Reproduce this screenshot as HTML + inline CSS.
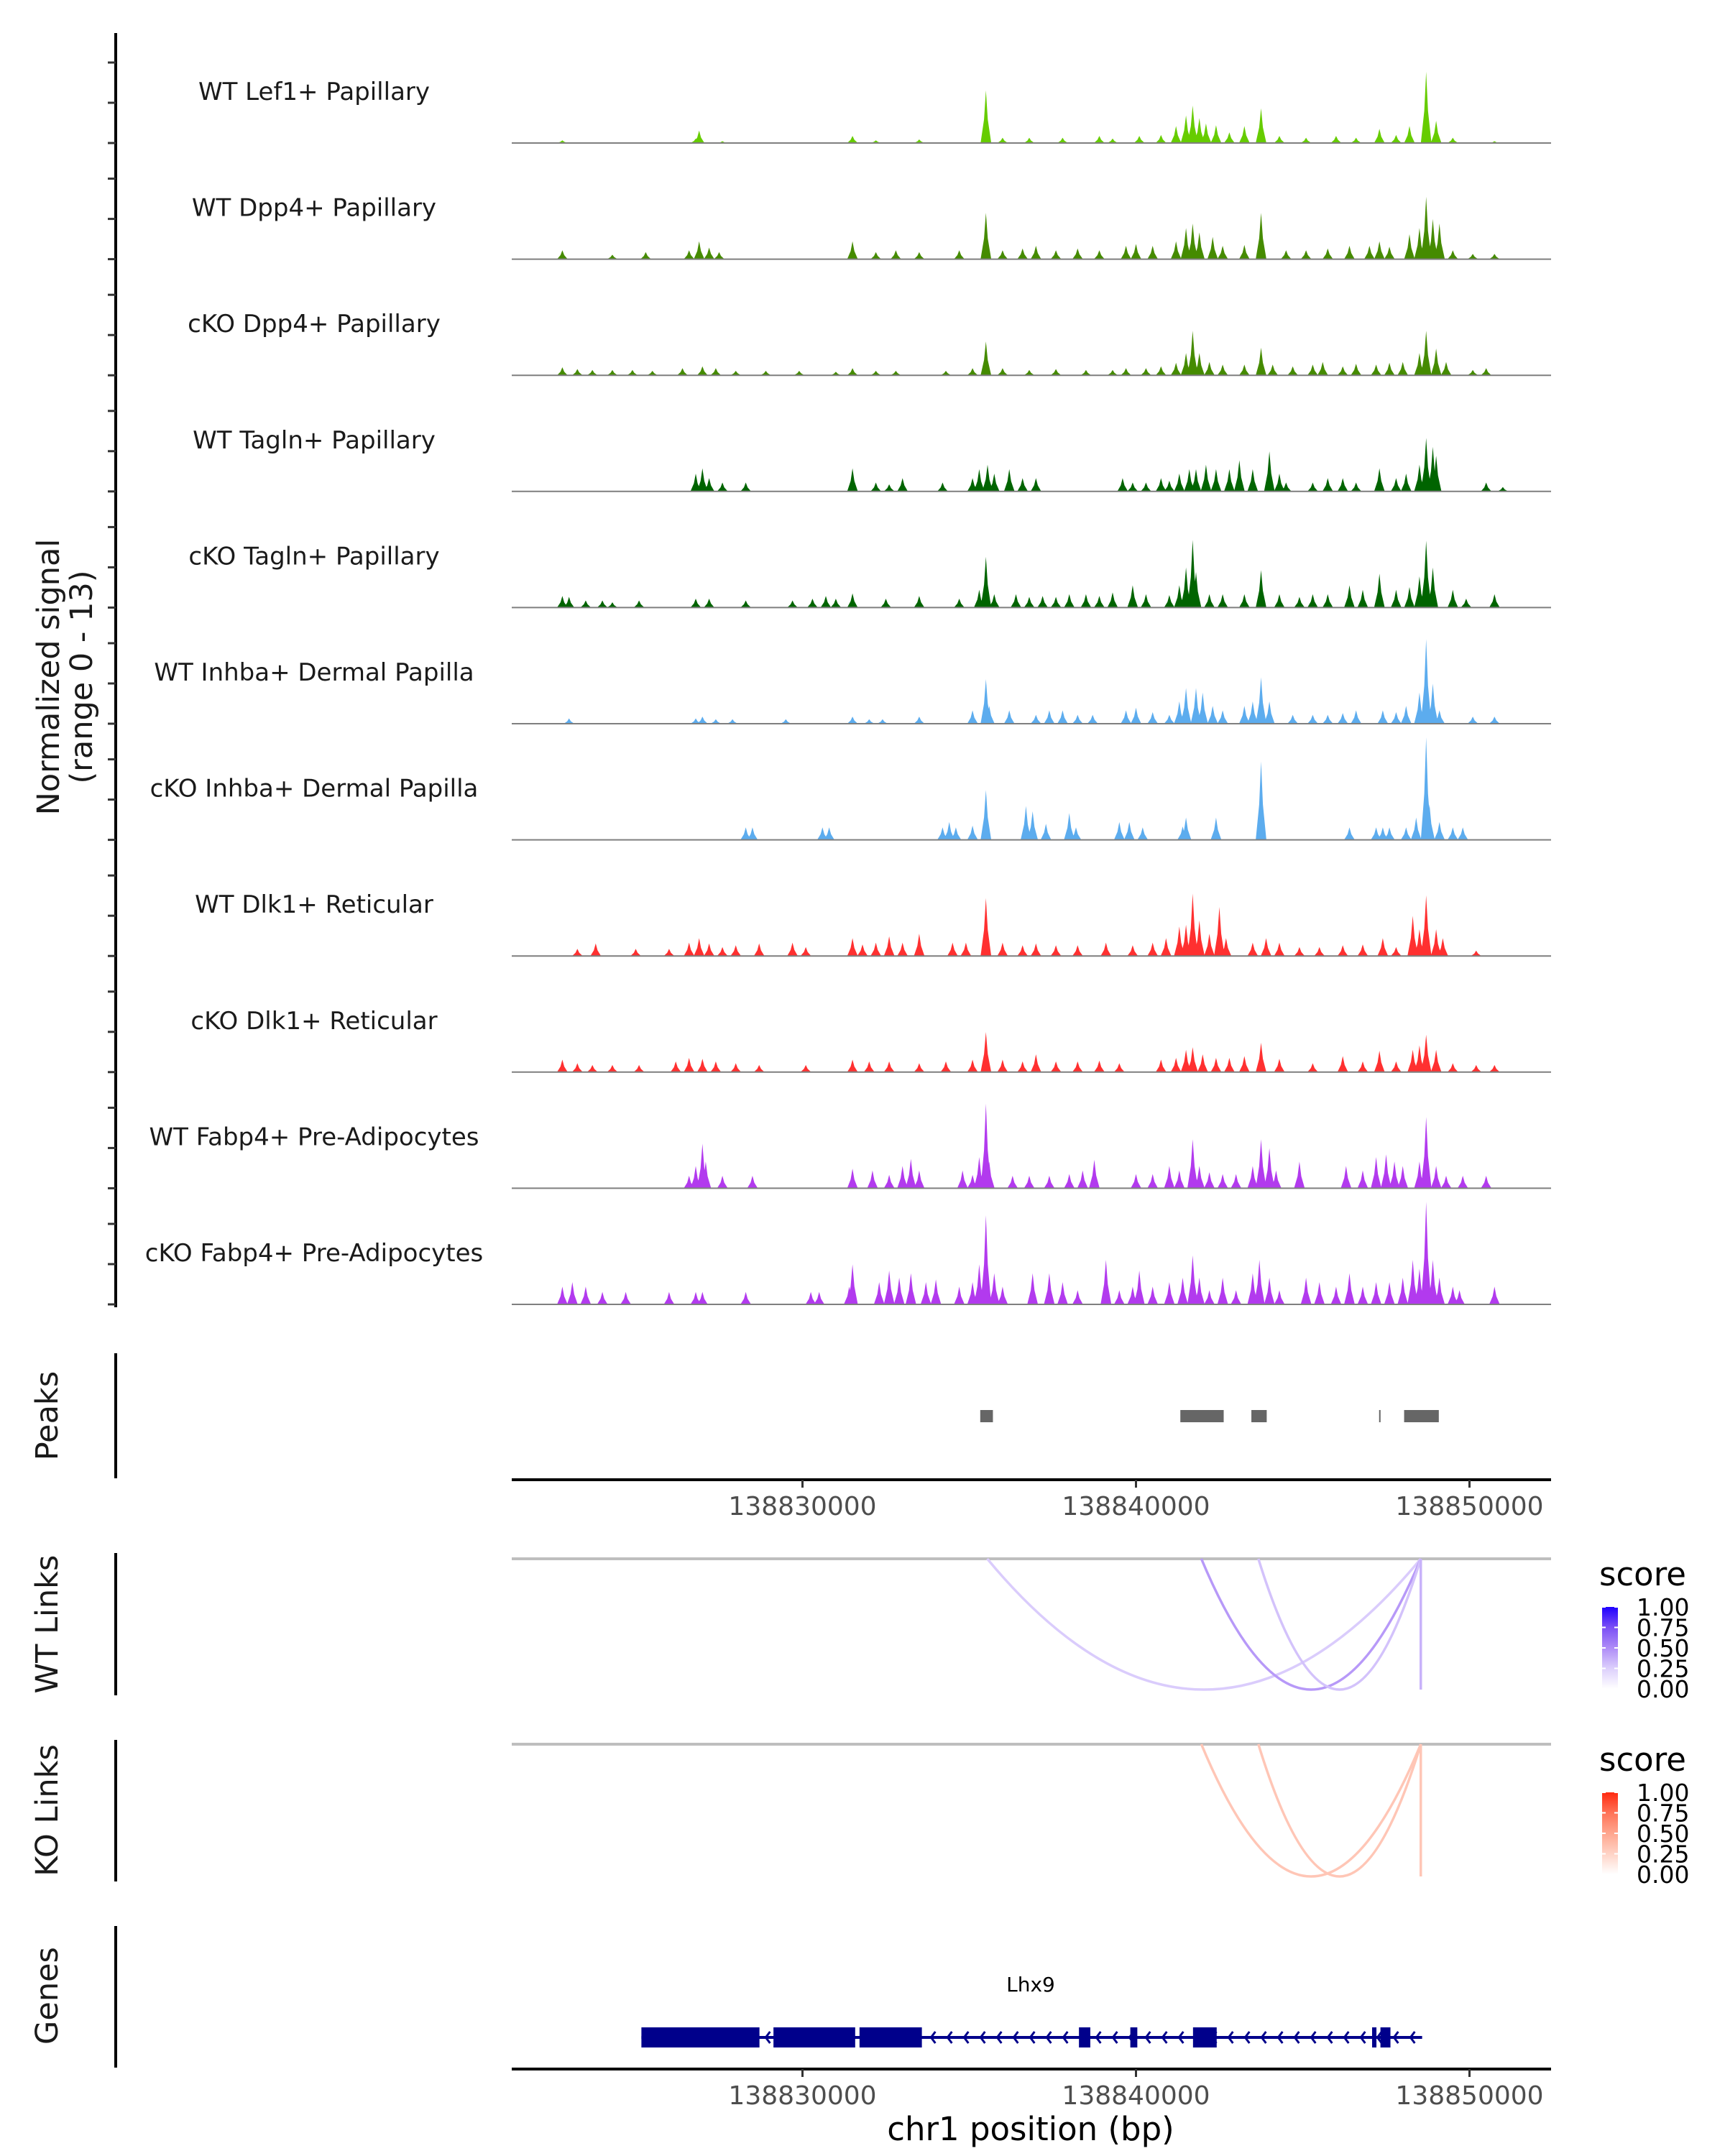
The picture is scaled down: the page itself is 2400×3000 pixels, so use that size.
<!DOCTYPE html>
<html><head><meta charset="utf-8"><style>
html,body{margin:0;padding:0;background:#fff}
svg{display:block}
text{font-family:"DejaVu Sans","Liberation Sans",sans-serif}
</style></head><body>
<svg id="chart" xmlns="http://www.w3.org/2000/svg" width="2400" height="3000" viewBox="0 0 2400 3000">
<rect x="0" y="0" width="2400" height="3000" fill="#fff"/>
<g id="tracks"></g>
<g id="left"></g>
<g id="peaks"></g>
<g id="links"></g>
<g id="genes"></g>
<g id="legends"></g>
</svg>
<script>
// ---- data (positions in kb offset from 138000000; values = normalized signal) ----
const trackNames = ["WT Lef1+ Papillary","WT Dpp4+ Papillary","cKO Dpp4+ Papillary","WT Tagln+ Papillary","cKO Tagln+ Papillary","WT Inhba+ Dermal Papilla","cKO Inhba+ Dermal Papilla","WT Dlk1+ Reticular","cKO Dlk1+ Reticular","WT Fabp4+ Pre-Adipocytes","cKO Fabp4+ Pre-Adipocytes"];
const trackColors = ["#66cc00","#458b00","#458b00","#006400","#006400","#5cacee","#5cacee","#ff3030","#ff3030","#b23aee","#b23aee"];
const posLef1 = [822.8,826.8,826.9,827.6,831.5,832.2,833.5,835.5,836.0,836.8,837.8,838.9,839.3,840.1,840.75,841.2,841.5,841.7,841.9,842.1,842.4,842.8,843.25,843.75,844.3,845.1,846.0,846.6,847.3,847.8,848.2,848.7,849.0,849.5,850.75];
const valLef1 = [0.3,0.5,1.4,0.2,0.8,0.3,0.4,5.9,0.6,0.6,0.6,0.8,0.5,0.8,0.9,1.9,3.1,4.2,2.8,2.2,2.0,1.2,1.9,3.9,0.8,0.6,0.8,0.6,1.6,0.9,1.9,8.0,2.5,0.6,0.2];
const posWDpp4 = [822.8,824.3,825.3,826.6,826.9,827.2,827.5,831.5,832.2,832.8,833.5,834.7,835.5,836.0,836.6,837.0,837.6,838.25,838.9,839.7,840.0,840.5,841.2,841.5,841.7,841.9,842.3,842.6,843.25,843.75,844.5,845.1,845.75,846.4,847.0,847.3,847.6,848.2,848.5,848.7,848.9,849.1,849.5,850.1,850.75];
const valWDpp4 = [1.0,0.5,0.8,1.0,2.0,1.3,0.8,2.0,0.8,1.0,0.8,1.0,5.2,1.0,1.2,1.5,1.0,1.2,1.0,1.5,1.7,1.5,2.0,3.5,4.0,3.0,2.5,1.5,1.6,5.2,1.0,1.0,1.2,1.5,1.5,2.0,1.4,2.8,3.5,7.0,4.5,4.0,1.0,0.6,0.6];
const posKDpp4 = [822.8,823.25,823.7,824.3,824.9,825.5,826.4,827.0,827.4,828.0,828.9,829.9,831.0,831.5,832.2,832.8,834.3,835.1,835.5,836.0,836.8,837.6,838.5,839.3,839.7,840.3,840.75,841.2,841.5,841.7,841.9,842.2,842.6,843.25,843.75,844.1,844.7,845.3,845.6,846.2,846.6,847.2,847.6,848.0,848.5,848.7,849.0,849.3,850.1,850.5];
const valKDpp4 = [0.9,0.7,0.6,0.6,0.6,0.5,0.8,1.0,0.8,0.5,0.5,0.5,0.4,0.8,0.5,0.5,0.5,0.8,3.8,0.8,0.6,0.7,0.6,0.6,0.8,0.8,1.0,1.4,2.5,5.0,2.5,1.5,1.2,1.2,3.1,1.2,1.0,1.2,1.5,1.0,1.3,1.2,1.4,1.5,2.5,5.0,3.0,1.5,0.6,0.8];
const posWTagln = [826.8,827.0,827.2,827.6,828.3,831.5,832.2,832.6,833.0,834.2,835.1,835.3,835.55,835.75,836.2,836.6,837.0,839.6,839.9,840.3,840.75,841.0,841.3,841.6,841.8,842.1,842.4,842.8,843.1,843.5,844.0,844.3,844.5,845.3,845.75,846.2,846.6,847.3,847.8,848.1,848.5,848.7,848.9,849.0,850.5,851.0];
const valWTagln = [2.0,2.6,1.5,1.0,1.0,2.6,1.0,0.8,1.5,1.0,1.5,2.5,3.0,2.0,2.5,1.5,1.5,1.5,1.0,1.0,1.5,1.2,2.0,2.5,2.5,3.0,2.5,2.5,3.5,2.5,4.5,2.0,1.0,1.0,1.5,1.5,1.0,2.6,1.5,2.0,3.0,6.0,5.0,4.0,1.0,0.5];
const posKTagln = [822.8,823.0,823.5,824.0,824.3,825.1,826.8,827.2,828.3,829.7,830.3,830.7,831.0,831.5,832.5,833.5,834.7,835.3,835.5,835.75,836.4,836.8,837.2,837.6,838.0,838.5,838.9,839.3,839.9,840.3,841.0,841.3,841.5,841.7,841.8,842.2,842.6,843.25,843.75,844.3,844.9,845.3,845.75,846.4,846.8,847.3,847.8,848.2,848.5,848.7,848.9,849.5,849.9,850.75];
const valKTagln = [1.3,1.2,0.8,0.8,0.6,0.8,1.0,1.0,0.8,0.8,1.0,1.3,1.0,1.6,1.0,1.3,1.0,2.0,5.7,1.5,1.5,1.2,1.3,1.2,1.5,1.5,1.3,1.7,2.5,1.5,1.4,2.5,4.5,7.6,4.0,1.5,1.5,1.5,4.2,1.5,1.2,1.5,1.5,2.5,2.0,3.8,2.0,2.3,3.5,7.5,4.5,2.0,1.0,1.5];
const posWInhba = [823.0,826.8,827.0,827.4,827.9,829.5,831.5,832.0,832.4,833.5,835.1,835.5,835.6,836.2,837.0,837.4,837.8,838.25,838.7,839.7,840.0,840.5,841.0,841.3,841.5,841.8,842.0,842.3,842.6,843.25,843.5,843.75,844.0,844.7,845.3,845.75,846.2,846.6,847.4,847.8,848.1,848.5,848.7,848.9,849.1,850.1,850.75];
const valWInhba = [0.6,0.6,0.8,0.5,0.5,0.5,0.8,0.5,0.5,0.8,1.5,5.0,2.0,1.5,1.0,1.5,1.5,1.0,1.0,1.5,1.8,1.3,1.0,2.5,4.0,4.0,3.5,2.0,1.5,2.0,2.5,5.2,2.5,1.0,1.0,1.0,1.2,1.5,1.5,1.3,2.0,3.5,9.5,4.5,1.5,0.8,0.8];
const posKInhba = [828.3,828.5,830.6,830.8,834.2,834.4,834.6,835.1,835.5,836.7,836.9,837.3,838.0,838.2,839.5,839.8,840.2,841.4,841.5,842.4,843.75,846.4,847.2,847.4,847.6,848.1,848.4,848.7,848.8,849.1,849.5,849.8];
const valKInhba = [1.4,1.4,1.4,1.4,1.4,2.0,1.4,1.6,5.6,3.8,3.2,1.8,3.0,1.4,2.0,2.0,1.4,1.5,2.5,2.5,8.8,1.4,1.4,1.4,1.4,1.4,2.5,11.5,4.0,2.0,1.4,1.4];
const posWDlk1 = [823.25,823.8,825.0,826.0,826.6,826.9,827.2,827.6,828.0,828.7,829.7,830.1,831.5,831.8,832.2,832.6,833.0,833.5,834.5,834.9,835.5,836.0,836.6,837.0,837.6,838.25,839.1,839.9,840.5,840.9,841.3,841.5,841.7,841.9,842.2,842.5,842.7,843.5,843.9,844.3,844.9,845.5,846.2,846.8,847.4,847.8,848.3,848.5,848.7,849.0,849.2,850.2];
const valWDlk1 = [0.8,1.4,0.8,0.8,1.5,2.0,1.4,1.0,1.2,1.4,1.5,1.0,2.0,1.3,1.5,2.2,1.5,2.5,1.5,1.5,6.5,1.5,1.2,1.4,1.2,1.2,1.5,1.2,1.5,2.0,3.3,3.5,7.0,4.0,2.5,5.5,2.0,1.5,2.0,1.5,1.0,1.0,1.2,1.3,2.0,1.0,4.5,3.0,6.8,3.0,2.0,0.6];
const posKDlk1 = [822.8,823.25,823.7,824.3,825.1,826.2,826.6,827.0,827.4,828.0,828.7,830.1,831.5,832.0,832.6,833.5,834.3,835.1,835.5,836.0,836.6,837.0,837.6,838.25,838.9,839.5,840.75,841.2,841.5,841.7,842.0,842.4,842.8,843.25,843.75,844.3,845.3,846.2,846.8,847.3,847.8,848.3,848.5,848.7,849.0,849.5,850.2,850.75];
const valKDlk1 = [1.4,1.0,0.8,0.8,0.8,1.2,1.6,1.5,1.2,1.0,0.8,0.8,1.4,1.2,1.2,1.0,1.2,1.4,4.5,1.4,1.2,2.0,1.2,1.2,1.3,1.0,1.4,1.6,2.5,2.8,2.0,1.6,1.6,1.8,3.3,1.5,1.0,1.8,1.2,2.4,1.2,2.5,3.0,4.2,2.5,1.0,0.8,0.8];
const posWFabp4 = [826.6,826.8,827.0,827.1,827.6,828.5,831.5,832.1,832.6,833.0,833.25,833.5,834.8,835.1,835.3,835.5,835.6,836.3,836.8,837.4,838.0,838.4,838.75,840.0,840.5,841.0,841.3,841.7,841.9,842.2,842.6,843.0,843.5,843.75,844.0,844.2,844.9,846.3,846.8,847.2,847.5,847.75,848.0,848.5,848.7,849.0,849.3,849.8,850.5];
const valWFabp4 = [1.4,2.5,5.0,3.0,1.4,1.4,2.2,2.0,1.5,2.5,3.3,2.0,2.0,1.5,3.5,9.5,3.0,1.4,1.4,1.4,1.6,2.0,3.2,1.6,1.6,2.5,2.0,5.5,2.5,1.8,1.6,1.6,2.5,5.5,4.5,2.0,3.0,2.5,2.0,3.5,3.8,3.0,2.5,3.0,8.0,2.5,1.4,1.4,1.4];
const posKFabp4 = [822.8,823.1,823.5,824.0,824.7,826.0,826.8,827.0,828.3,830.25,830.5,831.4,831.5,832.3,832.6,832.9,833.25,833.7,834.0,834.7,835.1,835.3,835.5,835.75,836.0,836.9,837.4,837.8,838.25,839.1,839.5,839.9,840.1,840.5,841.0,841.4,841.7,841.9,842.2,842.6,843.0,843.5,843.7,844.0,844.3,845.1,845.5,846.0,846.4,846.8,847.2,847.6,848.0,848.3,848.5,848.7,848.9,849.1,849.5,849.7,850.75];
const valKFabp4 = [2.0,2.5,2.0,1.4,1.4,1.4,1.4,1.4,1.4,1.4,1.4,2.0,4.5,2.5,3.8,3.0,3.5,2.5,2.8,2.0,2.5,4.5,10.0,3.5,2.0,3.5,3.5,2.5,1.6,5.0,1.6,2.0,3.8,2.0,2.5,3.0,5.5,3.0,1.6,3.0,1.6,3.5,5.0,3.0,1.6,3.0,2.5,2.0,3.5,2.0,2.5,2.5,3.0,5.0,4.0,11.5,5.0,3.0,2.0,1.6,2.0];
const trackPos = [posLef1,posWDpp4,posKDpp4,posWTagln,posKTagln,posWInhba,posKInhba,posWDlk1,posKDlk1,posWFabp4,posKFabp4];
const trackVal = [valLef1,valWDpp4,valKDpp4,valWTagln,valKTagln,valWInhba,valKInhba,valWDlk1,valKDlk1,valWFabp4,valKFabp4];
const peakStart = [835.33,841.33,843.46,847.29,848.04];
const peakEnd = [835.71,842.63,843.92,847.33,849.08];
const xTicks = [138830000,138840000,138850000];
const xTickLabels = ["138830000","138840000","138850000"];
const wtLinkStart = [835.54,841.96,843.67,848.50];
const wtLinkEnd = [848.54,848.54,848.54,848.54];
const wtLinkScore = [0.26,0.45,0.3,0.36];
const koLinkStart = [841.96,843.67,848.50];
const koLinkEnd = [848.54,848.54,848.54];
const koLinkScore = [0.32,0.32,0.32];
const exonStart = [825.17,829.13,831.71,838.29,839.83,841.71,847.08,847.33];
const exonEnd = [828.71,831.58,833.58,838.63,840.04,842.42,847.21,847.63];
const geneStart = 825.17, geneEnd = 848.58;
const legendTicks = ["1.00","0.75","0.50","0.25","0.00"];

// ---- scales ----
const NS = "http://www.w3.org/2000/svg";
const X0 = 712, X1 = 2158;
function xsBp(bp){ return 1116.5 + (bp - 138830000)/10000*464; }
function xs(kb){ return xsBp(138000000 + kb*1000); }
const trackTop0 = 199, trackStep = 161.6, unitPx = 12.4;
function ys(i, v){ return trackTop0 + i*trackStep - v*unitPx; }
function mk(tag, attrs, parent){ const e=document.createElementNS(NS,tag); for(const k in attrs) e.setAttribute(k,attrs[k]); parent.appendChild(e); return e; }

// ---- tracks ----
const gT = document.getElementById('tracks');
for(let i=0;i<trackNames.length;i++){
  const g = mk('g',{},gT);
  
  
  const base = ys(i,0);
  const hw = 0.16;
  const pos = trackPos[i], val = trackVal[i];
  let d = '';
  for(let j=0;j<pos.length;j++){
    d += 'M'+xs(pos[j]-hw).toFixed(1)+','+base+' L'+xs(pos[j]-hw*0.35).toFixed(1)+','+ys(i,val[j]*0.45).toFixed(1)+' L'+xs(pos[j]).toFixed(1)+','+ys(i,val[j]).toFixed(1)+' L'+xs(pos[j]+hw*0.35).toFixed(1)+','+ys(i,val[j]*0.45).toFixed(1)+' L'+xs(pos[j]+hw).toFixed(1)+','+base+' Z ';
  }
  const p = mk('path',{d:d,fill:trackColors[i]},g);
  
  
  const bl = mk('line',{x1:X0,x2:X1,y1:base,y2:base,stroke:'#7f7f7f','stroke-width':2},g);
  
  
  const t = mk('text',{x:437,y:base-60,'text-anchor':'middle','font-size':34,fill:'#1a1a1a'},g);
  t.textContent = trackNames[i];
  
  
}

// ---- left axes ----
const gL = document.getElementById('left');
function vaxis(y1,y2,name){ const l=mk('line',{x1:161,x2:161,y1:y1,y2:y2,stroke:'#000','stroke-width':4},gL);   }
vaxis(46,1819,'signal-y-axis');
for(let i=0;i<trackNames.length;i++){
  const b = ys(i,0);
  [0,56,112].forEach(o=>{ const tk=mk('line',{x1:150,x2:161,y1:b-o,y2:b-o,stroke:'#333','stroke-width':3},gL);   });
}
vaxis(1883,2057,'peaks-y-axis');
vaxis(2161,2359,'wt-links-y-axis');
vaxis(2421,2618,'ko-links-y-axis');
vaxis(2680,2877,'genes-y-axis');
function vtitle(x,y,txt,name){ const t=mk('text',{x:x,y:y,'text-anchor':'middle','font-size':43,fill:'#1a1a1a',transform:'rotate(-90 '+x+' '+y+')'},gL); t.textContent=txt;   }
vtitle(82,942,'Normalized signal','y-axis-title');
vtitle(128,942,'(range 0 - 13)','y-axis-subtitle');
vtitle(80,1970,'Peaks','peaks-title');
vtitle(80,2260,'WT Links','wt-links-title');
vtitle(80,2519,'KO Links','ko-links-title');
vtitle(80,2777,'Genes','genes-title');

// ---- peaks + x axes ----
const gP = document.getElementById('peaks');
for(let j=0;j<peakStart.length;j++){
  const r = mk('rect',{x:xs(peakStart[j]),y:1962,width:Math.max(2,xs(peakEnd[j])-xs(peakStart[j])),height:17,fill:'#666'},gP);
  
  
}
function xaxis(y,name){
  const l = mk('line',{x1:X0,x2:X1,y1:y,y2:y,stroke:'#000','stroke-width':4},gP);
  
  
  for(let k=0;k<xTicks.length;k++){
    const x = xsBp(xTicks[k]);
    const tk = mk('line',{x1:x,x2:x,y1:y,y2:y+11,stroke:'#333','stroke-width':3},gP);
    
    
    const t = mk('text',{x:x,y:y+49,'text-anchor':'middle','font-size':36,fill:'#4d4d4d'},gP);
    t.textContent = xTickLabels[k];
    
    
  }
}
xaxis(2059,'peaks-x-axis');
xaxis(2879,'genes-x-axis');
const xt = mk('text',{x:1434,y:2978,'text-anchor':'middle','font-size':45,fill:'#000'},gP);
xt.textContent = 'chr1 position (bp)';



// ---- links ----
const wtStops = [[255,255,255],[220,207,252],[174,140,247],[123,80,245],[31,0,255]];
const koStops = [[255,255,255],[255,211,198],[255,166,142],[255,114,87],[255,42,16]];
function col(stops,s){ const f=s*4, i=Math.min(3,Math.floor(f)), t=f-i; const a=stops[i], b=stops[i+1]; return 'rgb('+a.map((v,k)=>Math.round(v+(b[k]-v)*t)).join(',')+')'; }
const gK = document.getElementById('links');
function linkPanel(top,bot,st,en,sc,stops,name){
  const l = mk('line',{x1:X0,x2:X1,y1:top,y2:top,stroke:'#bebebe','stroke-width':4},gK);
  
  
  for(let j=0;j<st.length;j++){
    const a=xs(st[j]), b=xs(en[j]);
    const cy = top + (bot-top)*2;
    let d;
    if(Math.abs(b-a)<4) d='M'+b+','+top+' L'+b+','+bot;
    else d='M'+a+','+top+' Q'+((a+b)/2)+','+cy+' '+b+','+top;
    const p = mk('path',{d:d,fill:'none',stroke:col(stops,sc[j]),'stroke-width':3.5},gK);
    
    
  }
}
linkPanel(2169,2351,wtLinkStart,wtLinkEnd,wtLinkScore,wtStops,'wt-link');
linkPanel(2427,2611,koLinkStart,koLinkEnd,koLinkScore,koStops,'ko-link');

// ---- genes ----
const gG = document.getElementById('genes');
const gy = 2835;
const gl = mk('line',{x1:xs(geneStart),x2:xs(geneEnd),y1:gy,y2:gy,stroke:'#00008b','stroke-width':4},gG);


let chev='';
for(let x=xs(geneStart)+12; x<xs(geneEnd); x+=23){ chev += 'M'+(x+6)+','+(gy-8)+' L'+x+','+gy+' L'+(x+6)+','+(gy+8)+' '; }
const ch = mk('path',{d:chev,fill:'none',stroke:'#00008b','stroke-width':3},gG);


for(let j=0;j<exonStart.length;j++){
  const r = mk('rect',{x:xs(exonStart[j]),y:gy-14,width:Math.max(4,xs(exonEnd[j])-xs(exonStart[j])),height:28,fill:'#00008b'},gG);
  
  
}
const gn = mk('text',{x:1434,y:2771,'text-anchor':'middle','font-size':28,fill:'#000'},gG);
gn.textContent = 'Lhx9';



// ---- legends ----
const gLe = document.getElementById('legends');
function legend(top,stops,id,name){
  const t = mk('text',{x:2225,y:top-30,'font-size':45,fill:'#000'},gLe);
  t.textContent='score';
  
  
  const defs = mk('defs',{},gLe);
  const lg = mk('linearGradient',{id:id,x1:0,y1:0,x2:0,y2:1},defs);
  for(let k=0;k<stops.length;k++) mk('stop',{offset:(k/4),'stop-color':col(stops,1-k/4)},lg);
  const r = mk('rect',{x:2229,y:top,width:22,height:114,fill:'url(#'+id+')'},gLe);
  
  
  for(let k=0;k<legendTicks.length;k++){
    const y = top + k*28.5;
    mk('line',{x1:2229,x2:2234,y1:y,y2:y,stroke:'#fff','stroke-width':2},gLe);
    mk('line',{x1:2246,x2:2251,y1:y,y2:y,stroke:'#fff','stroke-width':2},gLe);
    const lt = mk('text',{x:2277,y:y+12,'font-size':33,fill:'#000'},gLe);
    lt.textContent = legendTicks[k];
    
    
  }
}
legend(2236,wtStops,'gwt','wt-legend');
legend(2494,koStops,'gko','ko-legend');
</script>
</body></html>
